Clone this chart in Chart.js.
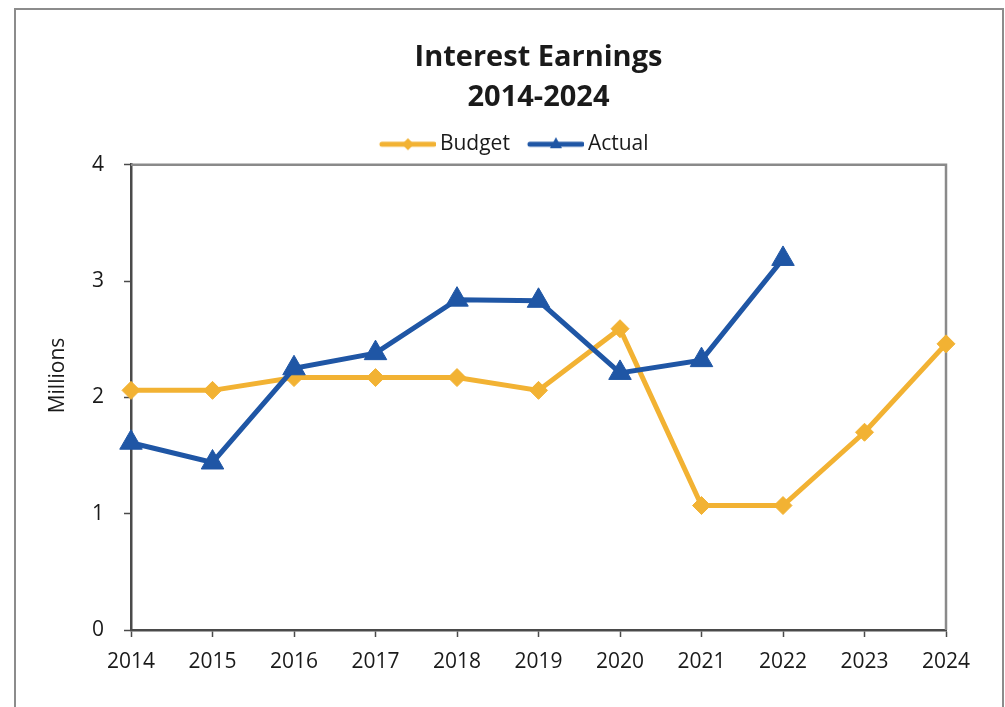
<!DOCTYPE html>
<html>
<head>
<meta charset="utf-8">
<script src="https://cdn.jsdelivr.net/npm/chart.js@4.4.1/dist/chart.umd.min.js"></script>
<style>
  html, body { margin: 0; padding: 0; background: #ffffff; }
  #wrap { position: relative; width: 1005px; height: 707px; }
  canvas { display: block; }
</style>
</head>
<body>
<div id="wrap"><canvas id="c" width="1005" height="707"></canvas></div>
<script>
// ---- data ----
const years = ['2014','2015','2016','2017','2018','2019','2020','2021','2022','2023','2024'];
const budget = [2.06, 2.06, 2.17, 2.17, 2.17, 2.06, 2.59, 1.07, 1.07, 1.70, 2.46];
const actual = [1.61, 1.44, 2.25, 2.38, 2.84, 2.83, 2.21, 2.32, 3.19, null, null];
const seriesNames = ['Budget', 'Actual'];
const titleLines = ['Interest Earnings', '2014-2024'];
const yAxisTitle = 'Millions';

const ORANGE = '#F2B233';
const BLUE = '#1F56A5';
const FONT = "'Open Sans', 'Noto Sans', sans-serif";
const TEXT = '#1a1a1a';

function makeIcon(color, kind) {
  const cv = document.createElement('canvas');
  cv.width = 74; cv.height = 26;
  const g = cv.getContext('2d');
  const cy = 13;
  g.strokeStyle = color; g.lineWidth = 5; g.lineCap = 'round';
  g.beginPath(); g.moveTo(20, cy); g.lineTo(72, cy); g.stroke();
  const cx = 46;
  g.fillStyle = color;
  g.beginPath();
  if (kind === 'diamond') {
    g.moveTo(cx, cy - 6); g.lineTo(cx + 6, cy); g.lineTo(cx, cy + 6); g.lineTo(cx - 6, cy);
  } else {
    g.moveTo(cx, cy - 7); g.lineTo(cx + 6, cy + 4); g.lineTo(cx - 6, cy + 4);
  }
  g.closePath(); g.fill();
  return cv;
}
const icons = [makeIcon(ORANGE, 'diamond'), makeIcon(BLUE, 'triangle')];

const frame = {
  id: 'frame',
  beforeDraw(chart) {
    const ctx = chart.ctx;
    ctx.save();
    ctx.strokeStyle = '#8c8c8c';
    ctx.lineWidth = 2;
    ctx.strokeRect(15, 9, 988, 730);
    ctx.restore();
  },
  beforeDatasetsDraw(chart) {
    const a = chart.chartArea, ctx = chart.ctx;
    ctx.save();
    ctx.strokeStyle = '#8a8a8a';
    ctx.lineWidth = 2.5;
    ctx.beginPath();
    ctx.moveTo(a.left, a.top);
    ctx.lineTo(a.right, a.top);
    ctx.lineTo(a.right, a.bottom);
    ctx.stroke();
    ctx.restore();
  }
};

new Chart(document.getElementById('c'), {
  type: 'line',
  data: {
    labels: years,
    datasets: [
      {
        label: seriesNames[0], data: budget, order: 1,
        borderColor: ORANGE, backgroundColor: ORANGE, borderWidth: 5,
        pointStyle: 'rectRot', pointRadius: 9, pointBorderWidth: 1,
        pointBackgroundColor: ORANGE, pointBorderColor: ORANGE, tension: 0
      },
      {
        label: seriesNames[1], data: actual, order: 0,
        borderColor: BLUE, backgroundColor: BLUE, borderWidth: 5,
        pointStyle: 'triangle', pointRadius: 13, pointBorderWidth: 1,
        pointBackgroundColor: BLUE, pointBorderColor: BLUE, tension: 0
      }
    ]
  },
  options: {
    responsive: false,
    animation: false,
    layout: { padding: { left: 71, right: 59, top: 10, bottom: 0 } },
    plugins: {
      title: {
        display: true, text: titleLines, fullSize: false,
        color: TEXT, font: { family: FONT, size: 29, weight: 'bold', lineHeight: 1.4 },
        padding: { top: 27, bottom: 9 }
      },
      legend: {
        display: true, position: 'top',
        labels: {
          color: TEXT, font: { family: FONT, size: 21 },
          usePointStyle: true, pointStyleWidth: 61, padding: 6.5,
          generateLabels: () => seriesNames.map((n, i) => ({
            text: n, pointStyle: icons[i], fillStyle: 'rgba(0,0,0,0)', strokeStyle: 'rgba(0,0,0,0)',
            lineWidth: 0, hidden: false, datasetIndex: i, fontColor: TEXT
          }))
        },
        onClick: () => {}
      },
      tooltip: { enabled: false }
    },
    scales: {
      x: {
        offset: false,
        grid: { display: true, drawOnChartArea: false, drawTicks: true, tickLength: 7, tickColor: '#4a4a4a', tickWidth: 1.5 },
        border: { display: true, color: '#4a4a4a', width: 2.5 },
        ticks: { color: TEXT, font: { family: FONT, size: 21 }, padding: 12, maxRotation: 0, autoSkip: false },
        afterFit: (s) => { s.height = 77; }
      },
      y: {
        min: 0, max: 4,
        grid: { display: true, drawOnChartArea: false, drawTicks: true, tickLength: 7, tickColor: '#4a4a4a', tickWidth: 1.5 },
        border: { display: true, color: '#4a4a4a', width: 2.5 },
        ticks: { stepSize: 1, color: TEXT, font: { family: FONT, size: 21 }, padding: 20 },
        title: { display: true, text: '\u00A0'.repeat(8) + yAxisTitle, color: TEXT, font: { family: FONT, size: 21 }, padding: { top: -26, bottom: 0 } },
        afterFit: (s) => { s.width = 60; }
      }
    }
  },
  plugins: [frame]
});
</script>
</body>
</html>
